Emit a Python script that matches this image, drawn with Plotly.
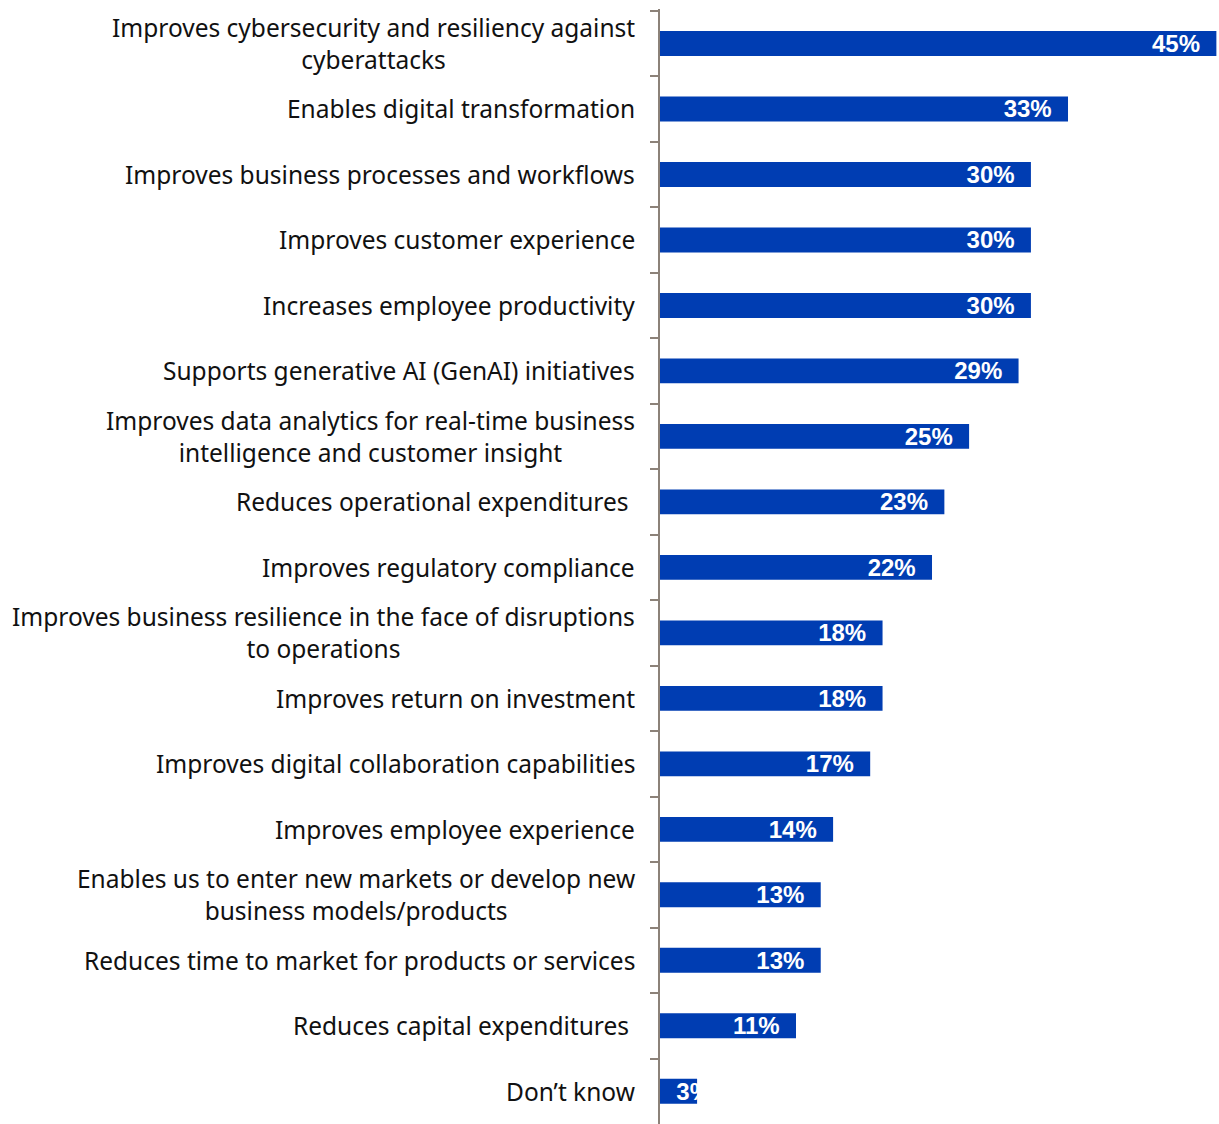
import plotly.graph_objects as go

categories = [
    "Improves cybersecurity and resiliency against<br>cyberattacks",
    "Enables digital transformation",
    "Improves business processes and workflows",
    "Improves customer experience",
    "Increases employee productivity",
    "Supports generative AI (GenAI) initiatives",
    "Improves data analytics for real-time business<br>intelligence and customer insight",
    "Reduces operational expenditures ",
    "Improves regulatory compliance",
    "Improves business resilience in the face of disruptions<br>to operations",
    "Improves return on investment",
    "Improves digital collaboration capabilities",
    "Improves employee experience",
    "Enables us to enter new markets or develop new<br>business models/products",
    "Reduces time to market for products or services",
    "Reduces capital expenditures ",
    "Don\u2019t know",
]
values = [45, 33, 30, 30, 30, 29, 25, 23, 22, 18, 18, 17, 14, 13, 13, 11, 3]

BAR_COLOR = "#003DB2"
LABEL_FONT = dict(family="Arial", size=24, color="white", weight="bold")

fig = go.Figure()
# Bars wide enough to hold their label: label at inside end
fig.add_trace(go.Bar(
    x=values[:-1],
    y=categories[:-1],
    orientation="h",
    marker=dict(color=BAR_COLOR, line=dict(width=0)),
    width=0.38,
    text=[f"{v}%\u00a0\u00a0" for v in values[:-1]],
    textposition="inside",
    insidetextanchor="end",
    constraintext="none",
    textfont=LABEL_FONT,
    hoverinfo="skip",
))
# Small last bar: label starts inside and runs off (white on white)
fig.add_trace(go.Bar(
    x=values[-1:],
    y=categories[-1:],
    orientation="h",
    marker=dict(color=BAR_COLOR, line=dict(width=0)),
    width=0.38,
    text=[f"\u00a0\u00a0{v}%" for v in values[-1:]],
    textposition="inside",
    insidetextanchor="start",
    constraintext="none",
    textfont=LABEL_FONT,
    hoverinfo="skip",
))

# Category labels (centre-aligned lines, right-anchored at the axis)
for cat in categories:
    fig.add_annotation(
        x=0, xref="paper", xanchor="right", xshift=-23,
        y=cat, yref="y", yanchor="middle",
        text=cat, align="center", showarrow=False,
        font=dict(family="Noto Sans", size=24.5, color="#111111"),
    )

fig.update_layout(
    width=1219,
    height=1124,
    margin=dict(l=660, r=2, t=9, b=0),
    paper_bgcolor="white",
    plot_bgcolor="white",
    showlegend=False,
    barmode="overlay",
)
fig.update_xaxes(range=[0, 45.05], visible=False, showgrid=False, zeroline=False)
fig.update_yaxes(
    categoryorder="array",
    categoryarray=categories,
    autorange="reversed",
    showline=True,
    linecolor="#8C8279",
    linewidth=2,
    ticks="outside",
    tickson="boundaries",
    ticklen=8,
    tickwidth=2,
    tickcolor="#8C8279",
    showgrid=False,
    showticklabels=False,
)

fig.write_html("out.html")
